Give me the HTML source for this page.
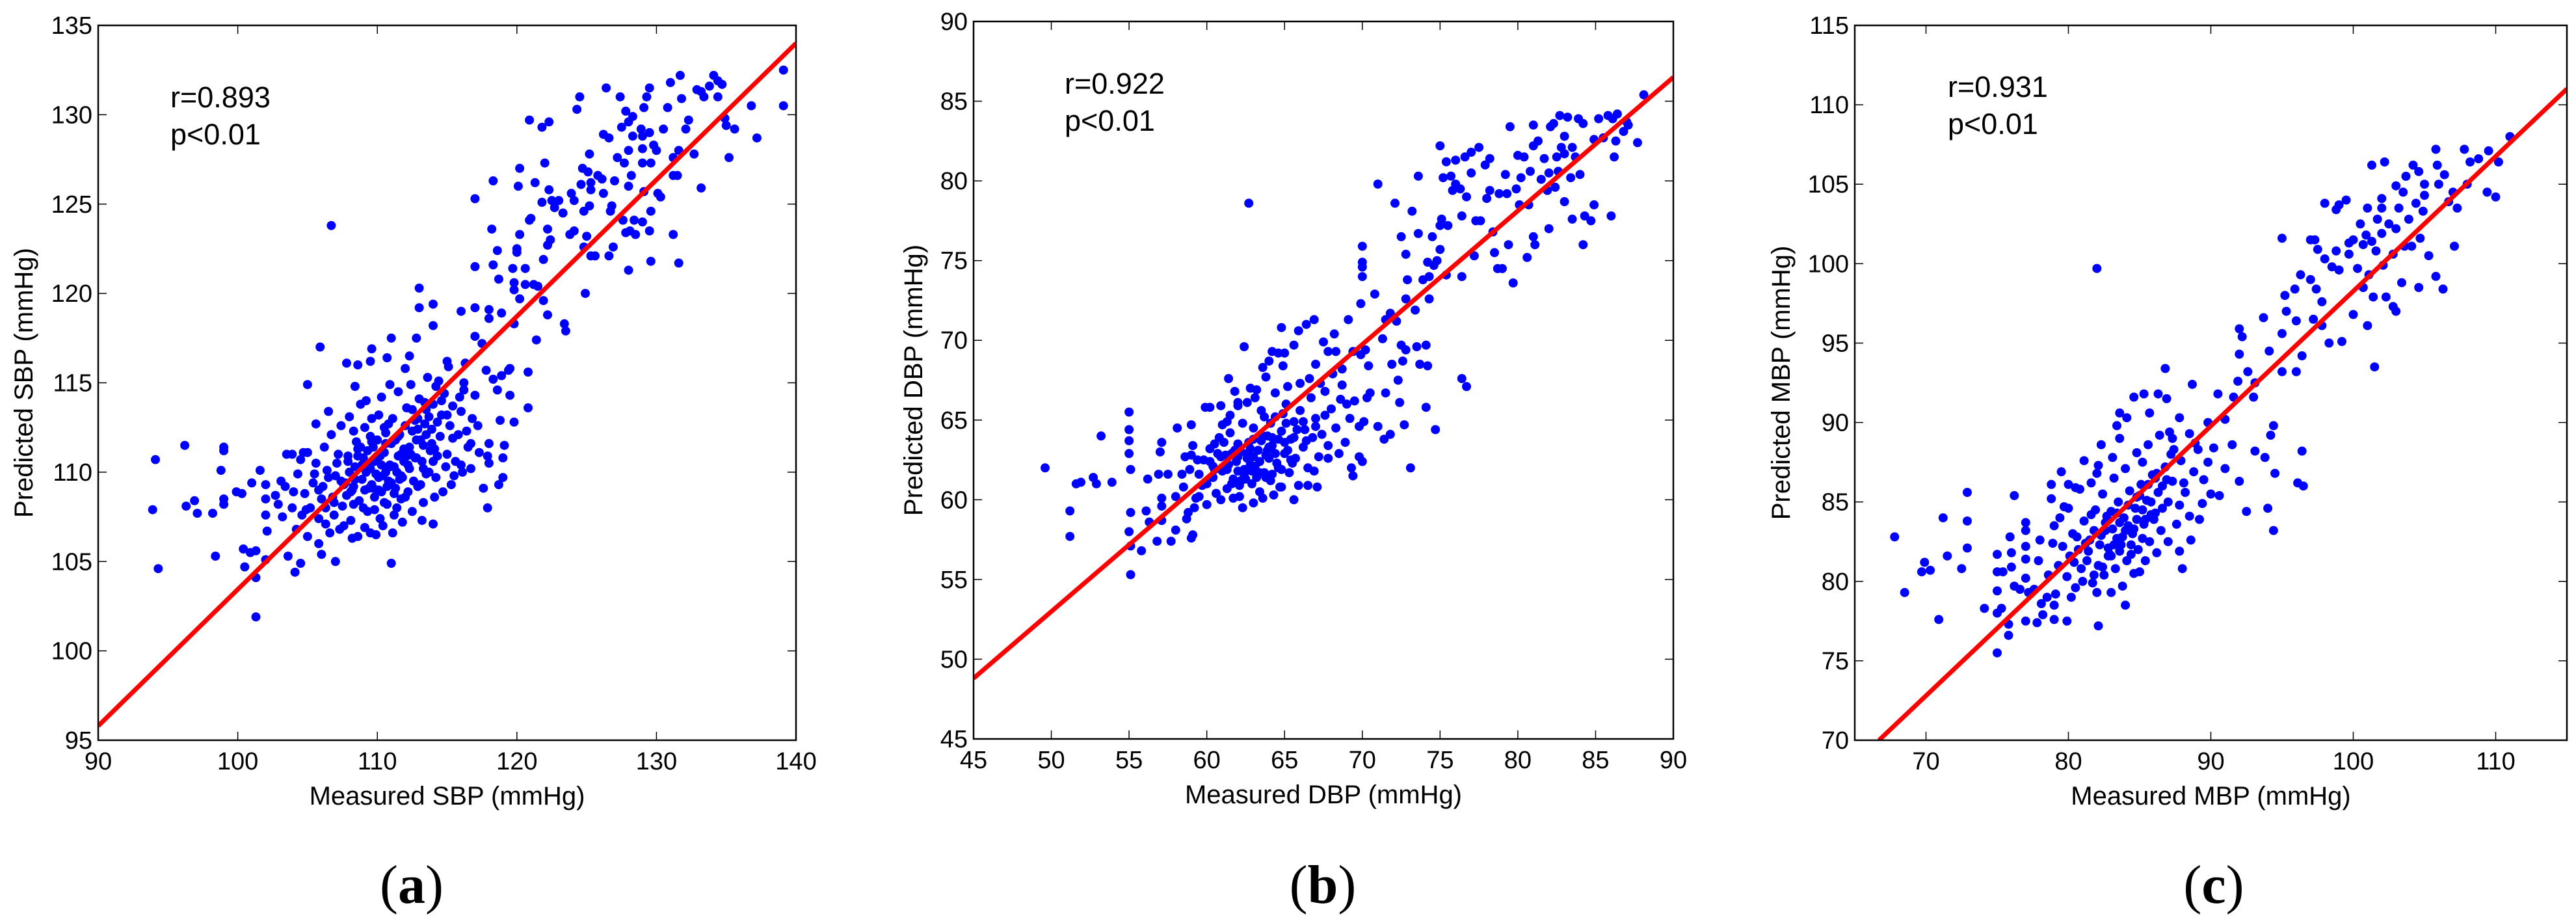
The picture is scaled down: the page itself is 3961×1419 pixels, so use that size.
<!DOCTYPE html>
<html><head><meta charset="utf-8">
<style>
html,body{margin:0;padding:0;background:#fff;}
svg{display:block;}
text{font-family:"Liberation Sans",Arial,sans-serif;fill:#000;}
.cap{font-family:"Liberation Serif","Times New Roman",serif;font-weight:bold;}
</style></head>
<body>
<svg id="fig" width="3961" height="1419" viewBox="0 0 3961 1419" xmlns="http://www.w3.org/2000/svg"></svg>
<script>
// ---------- Panel (a) SBP ----------
const aX = [93.9,94.1,94.3,96.2,96.3,96.9,97.1,98.2,98.4,98.8,99,99,99,99,99.9,100.3,100.4,100.5,100.9,101.0,101.3,101.3,101.3,101.6,102,102,102,102.1,102,102.7,102.9,103.1,103.2,103.4,103.5,103.9,103.6,104,104.1,104.5,104.3,104.5,104.7,105,105,105.6,105.9,106.7,106.5,107.8,108.4,108.6,109.5,109.6,110.7,111,112,112.3,112.8,113,113,114,114,111,107,106,105.8,108.2,109.5,114,113.2,115.5,116,116.7,117.2,118,117.9,118,117.9,117.6,118.7,119,119,119.1,118.8,119.8,120.8,120.8,119.5,119.4,118.6,118.3,118.9,117.8,116.2,116.3,115,116,117,117,117.5,118,118,118.9,119.8,119.5,117,117,118.3,118.2,118.3,118.6,118.7,119.7,119.8,119.8,120,120,120.2,120.2,120.1,120.2,120.6,120.6,120.9,121,120.9,121.2,121.5,121.4,121.9,121.9,121.8,122,121.3,121.8,122.3,122.2,122.3,122.2,122.4,122.2,122.5,122.7,123,123.3,123.4,123.5,123.9,123.8,124.1,124.1,124.3,124.5,124.7,124.6,124.8,124.8,124.9,125,125.1,125.2,125.3,125.3,125.2,125.3,125.6,125.8,126.1,126.2,126.2,126.4,126.6,126.7,126.6,126.8,126.9,127,127.2,127.4,127.5,127.7,127.6,127.8,127.8,128,128,128,128,128.1,128.2,128.3,128.3,128.4,128.5,128.9,129,129,129,129,129.1,129.1,129.3,129.5,129.5,129.6,129.6,129.5,129.6,129.8,130,130.1,130.3,130.5,130.8,131,131.2,131.2,131.2,131.5,131.6,131.6,131.7,131.8,132.1,132.3,132.7,132.9,133.2,133.2,133.4,133.8,134.1,134.4,134.4,134.9,135,135.2,135.6,136.8,137.2,139.1,139.1,134.7,
106.1,106.4,106.8,107.0,107.2,107.5,107.7,107.9,108.1,108.2,108.4,108.5,108.7,108.9,109.0,109.1,109.3,109.4,109.5,109.7,109.8,109.9,110.0,110.1,110.2,110.3,110.4,110.5,110.6,110.7,110.8,110.9,111.0,111.1,111.2,111.3,111.4,111.5,111.6,111.7,111.8,111.9,112.0,112.1,112.2,112.3,112.4,112.5,112.6,112.7,112.8,112.9,113.0,113.1,113.2,113.3,113.4,113.5,113.7,113.8,113.9,114.0,114.2,114.3,114.5,114.6,114.8,115.0,115.2,115.4,115.6,115.8,116.0,116.2,116.5,116.8,117.0,105.2,105.4,105.6,105.8,106.0,106.3,106.6,106.9,107.3,107.6,104.6,104.8,105.0,104.2,103.9,106.2,106.7,107.4,108.0,108.3,108.8,109.2,109.6,110.3,110.9,111.5,112.4,113.6,114.4,115.1,108.6,109.1,109.9,110.4,111.1,111.8,112.5,113.3,114.1,114.7,115.3,116.1,116.7,117.3,108.0,108.6,109.3,109.6,110.1,110.6,111.2,111.7,110.0,110.8,109.5,109.0,109.8,110.5,111.4,112.0,112.9,113.5,114.0,114.9,107.1,106.5,107.8,108.3];
const aY = [107.9,110.7,104.6,111.5,108.1,108.4,107.7,107.7,105.3,110.1,111.4,111.2,108.5,108.2,108.9,108.8,105.7,104.7,105.5,109.4,105.6,104.1,101.9,110.1,109.3,108.5,107.6,106.7,105.1,108.7,108.2,109.5,107.5,109.2,111,111,105.3,108.9,104.4,104.9,109.9,110.7,111.1,111.1,114.9,112.7,117,123.8,113.4,116.1,114.8,116,116.2,116.9,116.4,117.5,115.8,116.5,117.5,119.2,120.3,119.4,118.2,104.9,105,105.4,106,106.3,106.6,107.1,107.3,109.8,110.4,111.6,112.6,111.6,110.9,110.5,108,109.1,109.3,109.7,110.8,111.5,112.9,112.8,113.6,115.6,114.3,115.7,114.6,115.2,115.4,115.7,115,116.1,116.2,119,119.2,117.6,117.2,118.6,119.1,118.9,118.3,115.8,121.5,125.3,121.6,123.6,126.3,122.4,120.8,121.4,120.6,120.2,122.5,122.3,119.7,123.3,126,127,121.4,120.5,124.1,124.2,129.7,120.5,120.4,117.4,121.9,119.6,125.1,127.3,126.2,129.3,129.6,123.6,125.8,122.7,123,118.8,125.2,124.8,125.2,124.5,118.3,117.9,125.6,123.3,123.5,125.2,130.3,131,127,126.1,124.6,122.6,120,123.2,126.8,127.8,126.2,125.8,124.9,122.1,122.1,126.6,126.4,125.6,128.9,131.5,128.7,124.6,122.1,124.9,122.6,126.3,127.6,131,129.3,127.3,124.1,123.4,130.2,129.6,128,126,121.3,123.5,126.6,128.8,129.9,124.1,123.3,129.2,128.8,128.1,127.3,124,130.4,125.7,131,131.5,129,127.3,124.6,123.5,121.8,128.3,128,125.6,125.4,129.2,130.4,131.8,127.6,126.6,123.3,126.6,128,121.7,132.2,130.9,129.2,129.7,127.8,131.4,131.3,125.9,131,131.6,132.2,131.9,131,129.8,129.4,127.6,129.2,130.5,128.7,132.5,130.5,131.7,
109.2,110.1,108.6,109.8,111.0,108.1,109.4,110.6,107.3,109.0,110.3,111.7,108.4,109.6,110.8,112.5,107.8,109.1,110.2,111.4,108.6,109.9,110.7,113.2,107.4,108.9,109.8,111.1,112.2,108.2,109.5,110.4,111.6,113.0,107.6,109.1,110.0,110.9,112.1,108.5,109.7,111.3,112.6,113.6,108.9,110.2,111.0,112.3,109.5,110.8,111.8,113.0,114.1,109.3,110.6,111.5,112.7,113.5,110.0,111.2,112.4,113.8,109.7,110.9,112.0,113.2,114.4,111.0,112.6,113.7,110.6,112.1,113.4,114.6,111.4,113.0,114.3,108.0,109.4,110.5,107.4,108.5,107.1,106.6,107.6,106.8,107.0,107.6,108.8,106.4,106.8,108.0,111.4,112.1,112.6,113.1,112.3,113.8,114.0,113.0,114.2,114.9,114.5,114.9,115.3,115.1,115.9,106.4,106.9,106.5,107.0,106.6,107.2,107.8,108.3,108.6,108.9,109.3,110.0,110.2,111.1,110.0,110.9,110.5,109.3,109.0,110.0,110.3,111.0,111.8,112.7,112.0,108.0,107.9,108.3,108.0,108.6,109.2,109.9,110.6,110.3,110.5,109.7,108.7,108.2];
const aCoreX = [108.4,108.9,109.3,109.7,110.2,110.6,111.0,111.5,111.9,112.3,112.7,113.1,113.5,113.9,114.3,108.6,109.1,109.6,110.1,110.5,110.9,111.3,111.7,112.1,112.5,112.9,113.3,113.7,114.1,114.6,107.4,107.9,108.3,108.8,109.2,109.8,110.3,110.7,111.2,111.6,112.2,112.8,113.4,114.2,115.0,106.9,107.6,108.1,115.4,115.9,116.4,105.8,106.3,105.5,104.9];
const aCoreY = [109.6,110.4,111.2,109.1,110.9,111.6,109.4,112.0,110.6,111.4,112.9,111.8,112.1,111.6,112.8,111.3,109.0,111.7,109.7,112.5,110.3,111.8,109.8,110.9,113.5,112.4,110.2,113.1,111.3,114.0,109.5,110.9,109.2,111.4,110.0,110.6,110.4,109.2,108.8,109.6,110.4,110.8,113.9,114.8,113.2,108.3,109.3,108.9,111.9,114.2,112.3,109.0,108.0,109.9,107.9];
const aXTicks = [90,100,110,120,130,140];
const aYTicks = [95,100,105,110,115,120,125,130,135];
const aFit = [[90,95.8],[140,134.0]];

// ---------- Panel (b) DBP ----------
const bX = [49.6,51.2,51.2,51.6,51.9,52.7,52.9,53.2,53.9,55,55,55,55,55.1,55,55.1,55.1,55.1,55.8,56.1,56.2,56.3,56.8,56.9,57,57.1,57.1,57.1,57.1,57.5,57.7,58,58,58.1,58.4,58.6,58.7,58.8,59,59,59.1,59.2,59.4,59.5,59.9,60.2,60.5,60.9,61.3,61.4,61.8,62,62.4,62.7,62.8,63.1,63.6,63.8,64,64.2,64.6,64.8,64.9,65,65.6,65.9,66.4,66.9,67,67.5,67.8,68.2,68.3,68.7,69.1,69.4,69.9,69.9,70,70,70,70,70.2,70.4,70.8,71,71.3,71.5,71.8,71.9,72.2,72.6,72.5,72.8,72.3,72.7,73.1,73.5,73.7,74.1,74.2,74.1,74.7,76.4,76.7,72.1,72.5,72.8,72.9,72.8,73.2,73.6,73.6,73.4,73.9,74.2,74.3,74.3,74.5,74.6,74.8,75,75,75,75.1,75.2,75.4,75.7,75.5,75.4,75.8,76,76,76.3,76.4,76.4,76.6,76.7,77,77,77.2,77.3,77.5,77.6,77.9,78,78.2,78.2,78.4,78.5,78.7,78.8,79,79.2,79.3,79.4,79.5,79.7,79.9,80,80.1,80.2,80.4,80.6,80.7,80.8,81,81,81,81.1,81.3,81.5,81.7,81.9,82,82,82.1,82.3,82.4,82.5,82.6,82.7,82.8,83,83,83,83.2,83.4,83.5,83.5,83.7,83.9,84,84.2,84.2,84.3,84.7,84.9,84.9,85.2,85.5,85.8,86,86.2,86.3,86.4,86.8,87,87.7,88.1,86.1,87.1,
59.5,59.8,60.0,60.2,60.4,60.6,60.8,61.0,61.2,61.3,61.5,61.7,61.9,62.0,62.1,62.3,62.4,62.6,62.7,62.9,63.0,63.1,63.3,63.4,63.5,63.7,63.8,63.9,64.1,64.2,64.4,64.5,64.7,64.8,65.0,65.1,65.3,65.4,65.6,65.7,65.9,66.0,66.2,66.3,66.5,66.7,66.8,67.0,67.2,67.4,67.6,67.8,68.0,68.3,68.6,68.9,69.2,69.5,69.8,70.1,70.5,71.0,71.5,71.4,70.0,69.3,58.5,58.9,59.1,59.3,60.0,60.9,61.7,62.3,63.0,63.6,64.3,64.8,65.6,66.5,67.1,61.0,61.5,62.0,62.6,63.2,63.7,64.4,65.2,66.0,66.6,67.3,68.1,68.7,69.0,62.8,63.4,63.9,62.2,61.6,64.0,64.6,65.1,62.5,63.0,62.0,64.2,60.5,61.1,59.0,66.9,67.8,68.5,69.8,70.3,72.4,71.8,69.4];
const bY = [62,59.3,57.7,61,61.1,61.4,61,64,61.1,65.5,64.4,63.7,62.9,61.9,58,59.2,57.1,55.3,56.8,59.3,61.3,58.6,57.4,61.6,63,63.6,59.6,60.1,58.7,61.6,57.4,60.2,58.1,64.5,61.6,62.7,58.8,59.2,64.7,57.6,57.8,59.5,62.5,60.2,65.8,65.8,63.5,65.9,64.9,67.6,66.8,66.1,69.6,78.6,67,66.4,68.3,67.7,68.7,69.3,69.2,70.8,68.4,69.2,69.7,70.6,71,71.3,68.5,69.9,69.3,70.4,69.3,67.2,71.3,69.3,72.3,69.1,74.9,74.6,75.9,74,69.4,68.4,72.9,79.8,70.1,71.3,71.7,68.5,71.2,68.7,69.7,69.4,67.5,64.7,62,69.6,68.5,69.7,68.4,65.8,64.4,67.6,67.1,78.6,76.5,75.4,73.8,72.6,78.1,80.3,76.7,71.9,73.8,74.9,74,72.6,76.5,74.7,75,75.7,77.2,82.2,77.6,80.2,81.2,80.3,77.2,74.1,79.4,79.8,81.3,79.5,77.8,74,81.5,79,80.5,81.8,75.3,77.5,82.1,77.5,81,78.9,79.4,81.4,76.8,75.5,74.5,79.2,74.5,80.4,79.2,76,83.4,73.6,79.5,81.6,78.5,80.2,81.5,75.2,78.5,80.6,83.5,82.2,76.5,76,82.5,80.1,81.4,79.4,77,80.5,83.4,83.6,79.6,81.5,80.6,84.1,82.1,82.8,81.7,78.7,84,80.2,77.6,82.1,81.5,83.9,80.4,83.6,76,77.8,77.5,78.5,82.6,83.9,82.7,84.1,77.8,81.5,82.5,84.2,83.1,83.7,82.4,85.4,83.9,83.5,
61.6,62.5,61.0,63.2,62.1,60.4,63.9,61.8,62.8,60.7,64.2,61.3,62.4,63.5,60.2,64.8,61.6,62.6,63.6,61.0,64.5,62.1,63.1,60.5,65.6,61.7,62.8,64.0,61.2,63.4,65.2,62.3,60.8,64.3,62.9,66.0,61.7,63.8,64.9,62.6,60.9,65.6,63.3,64.4,62.0,66.4,63.9,65.1,62.7,64.1,66.8,63.4,65.7,64.5,66.3,63.6,65.1,66.2,62.7,64.9,66.7,64.6,66.7,63.8,62.4,62.0,60.8,61.9,63.4,60.1,59.7,60.0,60.1,59.5,59.8,60.1,60.3,60.8,60.0,60.9,60.8,64.7,65.3,65.9,66.1,66.9,65.2,66.7,67.1,67.3,67.6,67.3,67.9,68.2,66.0,62.2,61.7,63.1,63.0,62.9,62.6,63.8,64.8,61.3,62.7,61.8,61.6,61.9,63.6,62.8,61.8,62.6,62.9,64.6,66.4,66.1,64.1,61.5];
const bCoreX = [61.4,61.8,62.2,62.6,63.0,63.4,63.8,64.2,64.6,65.0,65.4,65.8,66.2,61.6,62.0,62.4,62.8,63.2,63.6,64.0,64.4,64.8,65.2,65.6,60.4,60.9,61.3,62.1,62.9,63.5,64.1,64.9,65.5,66.4,67.0,67.6,59.7,60.2,60.7];
const bCoreY = [62.2,63.1,61.2,62.9,63.8,62.4,61.4,63.9,62.0,63.6,62.5,64.4,64.9,61.0,62.7,61.9,63.2,61.4,64.0,63.3,62.9,61.9,63.1,63.9,61.4,62.7,61.9,60.9,61.8,63.7,64.8,65.4,62.3,63.7,64.6,65.3,60.9,62.4,62.9];
const bXTicks = [45,50,55,60,65,70,75,80,85,90];
const bYTicks = [45,50,55,60,65,70,75,80,85,90];
const bFit = [[45,48.8],[90,86.5]];

// ---------- Panel (c) MBP ----------
const cX = [67.8,68.5,69.7,69.9,70.3,70.9,71.2,71.5,72.5,72.9,72.9,72.9,74.1,75,75,75,75,75,75.3,75.4,75.8,75.8,75.9,76,76,76.2,76.2,76.6,77,77,77,77,77,77,77.2,77.6,77.8,77.9,78,78.1,78.2,78.5,78.8,78.8,79,79,79,79.4,79.5,79.7,79.9,80,80.5,81.1,81.6,82,82.1,82.1,82.3,83.1,83.4,83.6,83.6,84.1,84.6,85.2,85.3,85.7,86.3,86.1,86.8,86.9,87.1,87.3,88.7,89.8,90.5,91,91.6,92,92,92.2,91.9,92.6,93.1,93,93.7,93.8,93.1,94,94.4,94.2,94.4,94.5,94.1,95,95,95.2,95,95.3,95.9,96,96,96.1,96.5,96.4,96.4,96.3,97,97,97.2,97.3,97.4,97.5,97.8,97.8,98,98,98.3,98.5,98.8,98.8,99,99,99.2,99.5,99.7,99.7,100,100,100.3,100.5,100.7,100.7,100.9,101,101,101.1,101.3,101.4,101.3,101.5,101.6,101.7,102,102,102,102.1,102.3,102.2,102.5,102.8,102.8,103,103,103,103.2,103.4,103.5,103.6,103.7,103.9,104.1,104.2,104.4,104.6,104.6,104.7,104.9,105,105,105.3,105.8,105.8,105.9,106,106.3,106.4,106.7,107,107.1,107.3,107.8,108,108.2,108.8,109.4,109.5,110,110.2,111,82,
79.3,79.6,79.9,80.1,80.3,80.5,80.7,80.9,81.1,81.3,81.5,81.7,81.9,82.1,82.3,82.5,82.7,82.9,83.1,83.3,83.5,83.7,83.9,84.1,84.3,84.5,84.7,84.9,85.1,85.3,85.5,85.7,85.9,86.1,86.3,86.5,86.8,87.0,87.3,87.6,87.9,88.2,88.5,88.8,89.1,89.4,89.8,90.2,90.6,91.0,91.5,92.0,92.5,80.0,80.8,81.6,82.4,83.2,84.0,84.8,85.6,86.4,87.2,87.8,88.5,83.0,83.8,84.6,85.4,86.2,87.0,87.8,88.6,89.2,90.0,82.8,83.4,84.2,84.8,85.2,83.6,82.6,84.4,85.8,83.0,81.2,80.4,86.6,85.0,80.2,81.8,82.0,84.0,78.6,78.9,79.1,88.0,87.8,89.5];
const cY = [82.8,79.3,80.6,81.2,80.7,77.6,84,81.6,80.8,82.1,83.8,85.6,78.3,75.5,78,79.4,80.6,81.7,78.3,80.6,77.3,76.6,82.8,81.8,80.9,85.4,79.7,79.5,83.7,83.2,82.2,81.4,80.2,77.5,79.3,79.5,77.4,81.3,82.6,78.6,77.9,79,86.1,85.2,77.6,78.5,83.5,84,86.9,84.7,77.5,86.1,85.9,87.6,84.2,86.8,77.2,87.3,88.6,87.8,89.8,90.6,89,90.3,91.6,87.5,91.8,90.6,91.8,86.5,93.4,91.5,89.4,89,92.4,90,91.8,90.2,91.6,95.9,94.3,95.4,92.6,93.2,92.5,91.6,96.6,87.8,88.2,84.6,83.2,89.2,89.8,86.8,94.5,95.6,93.2,98,101.6,97,98.4,96.4,93.2,86.2,86,88.2,94.2,99.3,101.5,99,96.5,101.5,98.4,100.9,97.6,96.1,100.3,103.8,95,99.8,103.4,100.8,99.6,103.7,95.1,104,101.3,100.6,96.8,101.5,99.7,102.5,101.2,98.5,101.8,103.5,96.1,99.3,101.4,97.9,106.2,93.5,100.8,102.8,103.5,104.1,101.9,99.9,97.9,106.4,102.5,100.6,97.3,97,104.9,102.2,103.5,98.8,104.5,101.1,105.5,102.8,101.1,106.2,103.8,105.8,98.5,101.6,103.3,105,104.3,100.5,107.2,99.2,106.2,105,98.4,105.6,103.9,104.5,101.1,103.5,107.2,105,106.4,106.6,104.5,107.1,104.2,106.4,108,99.7,
81.0,82.2,80.3,81.6,83.0,79.6,82.0,80.8,83.8,81.3,82.6,79.9,84.5,81.0,82.9,80.4,84.1,81.7,83.3,80.8,85.0,82.3,84.0,81.3,85.7,83.0,84.6,82.0,86.1,83.6,85.1,82.5,86.7,84.3,85.6,83.2,87.2,85.0,86.3,83.6,87.6,85.6,84.1,86.9,88.3,84.9,87.5,88.4,85.4,87.1,88.6,86.3,84.4,84.6,85.8,86.2,85.5,86.5,87.1,88.1,88.6,89.2,88.0,90.3,89.3,79.3,79.7,80.5,81.3,81.8,82.5,81.9,82.6,83.9,85.5,82.1,82.7,83.5,83.9,84.5,83.7,83.2,82.3,84.2,84.4,82.4,81.2,86.0,80.6,79.0,80.4,79.3,78.5,80.4,82.4,79.2,80.8,84.8,86.4];
const cCoreX = [82.2,82.6,83.0,83.4,83.8,84.2,84.6,85.0,85.4,85.8,86.2,86.6,82.4,82.8,83.2,83.6,84.0,84.4,84.8,85.2,85.6,86.0,81.4,81.8,80.6,81.0,86.9,87.4,88.1,88.9];
const cCoreY = [82.3,83.7,81.6,84.3,82.8,84.8,83.3,85.4,83.9,85.0,86.8,84.6,80.9,81.6,82.3,81.9,83.2,81.7,85.3,82.7,86.1,83.9,81.9,83.2,82.8,80.0,86.4,88.3,86.2,88.7];
const cXTicks = [70,80,90,100,110];
const cYTicks = [70,75,80,85,90,95,100,105,110,115];
const cFit = [[66.7,70],[115,111]];

const NS = 'http://www.w3.org/2000/svg';
const svg = document.getElementById('fig');
function mk(tag, attrs, parent){
  const e = document.createElementNS(NS, tag);
  for (const k in attrs) e.setAttribute(k, attrs[k]);
  (parent||svg).appendChild(e);
  return e;
}

const panels = [
  {id:'a', box:[151,39,1224,1138], xd:[90,140], yd:[95,135], xs:aX.concat(aCoreX), ys:aY.concat(aCoreY), xt:aXTicks, yt:aYTicks, fit:aFit,
   xl:'Measured SBP (mmHg)', yl:'Predicted SBP (mmHg)', ylx:50, r:'r=0.893', ann:[262,165], cap:'a', capx:633},
  {id:'b', box:[1497,33,2573,1136], xd:[45,90], yd:[45,90], xs:bX.concat(bCoreX), ys:bY.concat(bCoreY), xt:bXTicks, yt:bYTicks, fit:bFit,
   xl:'Measured DBP (mmHg)', yl:'Predicted DBP (mmHg)', ylx:1418, r:'r=0.922', ann:[1637,144], cap:'b', capx:2034},
  {id:'c', box:[2852,39,3947,1138], xd:[65,115], yd:[70,115], xs:cX.concat(cCoreX), ys:cY.concat(cCoreY), xt:cXTicks, yt:cYTicks, fit:cFit,
   xl:'Measured MBP (mmHg)', yl:'Predicted MBP (mmHg)', ylx:2752, r:'r=0.931', ann:[2995,149], cap:'c', capx:3404}
];

panels.forEach(p => {
  const [L,T,R,B] = p.box;
  const sx = v => L + (v - p.xd[0]) / (p.xd[1]-p.xd[0]) * (R-L);
  const sy = v => B - (v - p.yd[0]) / (p.yd[1]-p.yd[0]) * (B-T);
  const g = mk('g', {});
  
  
  const clipId = 'clip-' + p.id;
  const cp = mk('clipPath', {id: clipId}, g);
  mk('rect', {x:L, y:T, width:R-L, height:B-T}, cp);

  const pts = mk('g', {'clip-path':'url(#'+clipId+')'}, g);
  
  
  for (let i=0;i<p.xs.length;i++){
    const c = mk('circle', {cx:sx(p.xs[i]).toFixed(1), cy:sy(p.ys[i]).toFixed(1), r:7, fill:'#0000ff'}, pts);
    
    
  }
  const ln = mk('line', {x1:sx(p.fit[0][0]), y1:sy(p.fit[0][1]), x2:sx(p.fit[1][0]), y2:sy(p.fit[1][1]),
    stroke:'#ff0000', 'stroke-width':7, 'clip-path':'url(#'+clipId+')'}, g);
  
  

  const bx = mk('rect', {x:L, y:T, width:R-L, height:B-T, fill:'none', stroke:'#000', 'stroke-width':2.5}, g);
  
  

  p.xt.forEach(v => {
    const x = sx(v);
    mk('line', {x1:x, y1:B, x2:x, y2:B-13, stroke:'#000', 'stroke-width':1.5}, g);
    mk('line', {x1:x, y1:T, x2:x, y2:T+13, stroke:'#000', 'stroke-width':1.5}, g);
    const t = mk('text', {x:x, y:B+45, 'font-size':38, 'text-anchor':'middle'}, g);
    t.textContent = v;
    
    
  });
  p.yt.forEach(v => {
    const y = sy(v);
    mk('line', {x1:L, y1:y, x2:L+13, y2:y, stroke:'#000', 'stroke-width':1.5}, g);
    mk('line', {x1:R, y1:y, x2:R-13, y2:y, stroke:'#000', 'stroke-width':1.5}, g);
    const t = mk('text', {x:L-9, y:y+13, 'font-size':38, 'text-anchor':'end'}, g);
    t.textContent = v;
    
    
  });
  const xt = mk('text', {x:(L+R)/2, y:B+99, 'font-size':40, 'text-anchor':'middle'}, g);
  xt.textContent = p.xl;
  
  
  const cy = (T+B)/2;
  const yt = mk('text', {x:p.ylx, y:cy, 'font-size':40, 'text-anchor':'middle', transform:'rotate(-90 '+p.ylx+' '+cy+')'}, g);
  yt.textContent = p.yl;
  
  
  const r1 = mk('text', {x:p.ann[0], y:p.ann[1], 'font-size':45}, g);
  r1.textContent = p.r;
  
  
  const r2 = mk('text', {x:p.ann[0], y:p.ann[1]+57, 'font-size':45}, g);
  r2.textContent = 'p<0.01';
  
  
  const cap = mk('text', {x:p.capx, y:1388, 'font-size':84, 'text-anchor':'middle', 'class':'cap'}, g);
  const s1 = mk('tspan', {'font-weight':'normal'}, cap); s1.textContent='(';
  const s2 = mk('tspan', {}, cap); s2.textContent=p.cap;
  const s3 = mk('tspan', {'font-weight':'normal'}, cap); s3.textContent=')';
  
  
});
</script>
</body></html>
